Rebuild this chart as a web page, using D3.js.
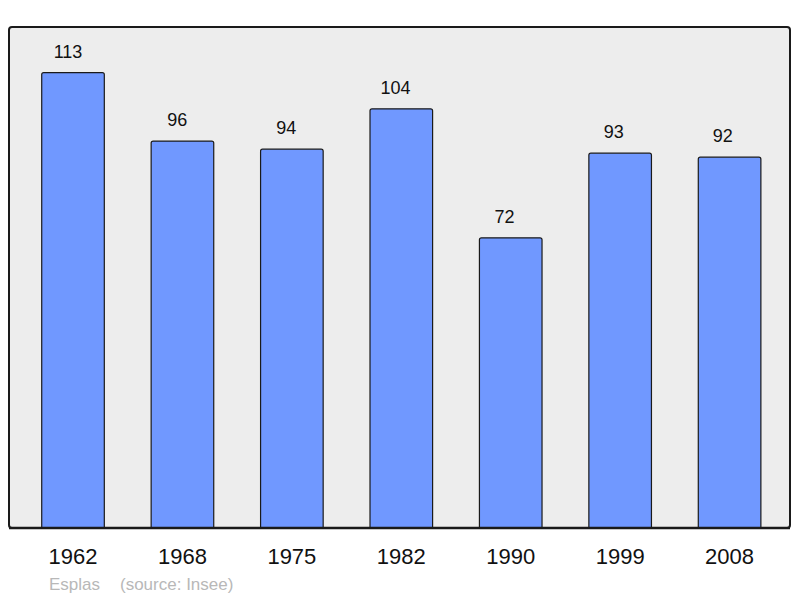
<!DOCTYPE html>
<html><head><meta charset="utf-8">
<script src="https://cdn.jsdelivr.net/npm/d3@7"></script>
<style>body{margin:0;background:#fff}svg{display:block}</style>
</head><body>
<script>
const years = ["1962","1968","1975","1982","1990","1999","2008"];
const population = [113,96,94,104,72,93,92];
const sourceLabel = ["Esplas","(source: Insee)"];

const W=800,H=598;
const svg=d3.select("body").append("svg").attr("width",W).attr("height",H);
const font="Liberation Sans, Arial, sans-serif";

svg.append("rect").attr("x",9).attr("y",27).attr("width",781).attr("height",501)
  .attr("rx",3).attr("fill","#ededed").attr("stroke","#1a1a1a").attr("stroke-width",2);

const x=d3.scaleBand().domain(years).range([18.3,784.3]).paddingInner(0.428).paddingOuter(0.214);
const y=d3.scaleLinear().domain([0,113*1.1]).range([528,27]);

const data=years.map((yr,i)=>({yr,v:population[i],i}));

svg.selectAll("path.bar").data(data).enter().append("path").attr("class","bar")
  .attr("d",d=>{
    const x0=x(d.yr),x1=x0+x.bandwidth(),y0=y(d.v),y1=y(0),r=2;
    return `M${x0},${y1}V${y0+r}Q${x0},${y0} ${x0+r},${y0}H${x1-r}Q${x1},${y0} ${x1},${y0+r}V${y1}`;
  })
  .attr("fill","#7098ff").attr("stroke","#1a1a1a").attr("stroke-width",1.2);

svg.append("path").attr("d","M9,528H790").attr("stroke","#1a1a1a").attr("stroke-width",2.5);

svg.selectAll("text.val").data(data).enter().append("text").attr("class","val")
  .attr("x",d=>x(d.yr)+x.bandwidth()/2-5-d.i*0.3).attr("y",d=>y(d.v)-15)
  .attr("text-anchor","middle").attr("font-family",font).attr("font-size",18).attr("fill","#111")
  .text(d=>d.v);

const xa=svg.append("g").attr("transform","translate(0,528)")
  .call(d3.axisBottom(x).tickSize(0).tickPadding(0));
xa.select(".domain").remove();
xa.selectAll("text").attr("font-family",font).attr("font-size",22).attr("fill","#111")
  .attr("dy",null).attr("y",36);

svg.append("text").attr("x",49).attr("y",590).attr("font-family",font).attr("font-size",17)
  .attr("fill","#b8b8b8").text(sourceLabel[0]);
svg.append("text").attr("x",120).attr("y",590).attr("font-family",font).attr("font-size",17)
  .attr("fill","#b8b8b8").text(sourceLabel[1]);
</script>
</body></html>
